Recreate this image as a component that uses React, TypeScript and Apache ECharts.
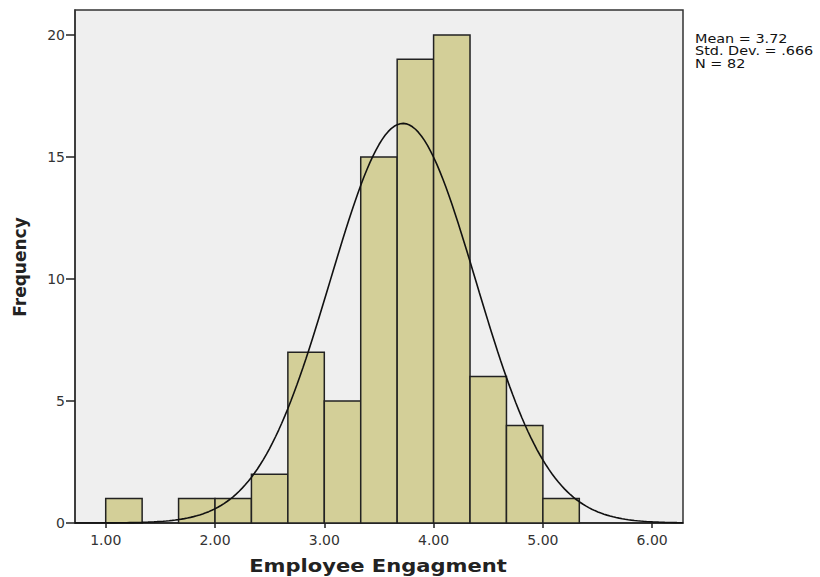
import React, { useEffect, useRef } from "react";
import * as echarts from "echarts";

const binStarts = [1.0, 1.3333, 1.6667, 2.0, 2.3333, 2.6667, 3.0, 3.3333, 3.6667, 4.0, 4.3333, 4.6667, 5.0];
const binEnds = [1.3333, 1.6667, 2.0, 2.3333, 2.6667, 3.0, 3.3333, 3.6667, 4.0, 4.3333, 4.6667, 5.0, 5.3333];
const frequencies = [1, 0, 1, 1, 2, 7, 5, 15, 19, 20, 6, 4, 1];
const xTicks = [1, 2, 3, 4, 5, 6];
const yTicks = [0, 5, 10, 15, 20];
const MEAN = 3.72;
const SD = 0.666;
const N = 82;
const BIN_WIDTH = 1 / 3;
const statLines = ["Mean = 3.72", "Std. Dev. = .666", "N = 82"];
const xTitle = "Employee Engagment";
const yTitle = "Frequency";

export default function App() {
  const ref = useRef<HTMLDivElement>(null);
  useEffect(() => {
    if (!ref.current) return;
    const chart = echarts.init(ref.current, null, { renderer: "svg" });
    const X_MIN = 0.719;
    const X_MAX = 6.282;
    // fitted normal curve from the stated Mean, SD and N
    const curve: number[][] = [];
    const steps = 200;
    for (let i = 0; i <= steps; i++) {
      const x = X_MIN + ((X_MAX - X_MIN) * i) / steps;
      const z = (x - MEAN) / SD;
      const y = ((N * BIN_WIDTH) / (SD * Math.sqrt(2 * Math.PI))) * Math.exp(-0.5 * z * z);
      curve.push([x, y]);
    }
    const bars = binStarts
      .map((s, i) => [s, binEnds[i], frequencies[i]])
      .filter((d) => d[2] > 0);
    const fmt = (v: number) => v.toFixed(2);
    chart.setOption({
      animation: false,
      grid: {
        left: 75,
        top: 10,
        right: 137,
        bottom: 54,
        outerBoundsMode: "none",
        containLabel: false,
        show: true,
        backgroundColor: "#efefef",
        borderColor: "#333",
        borderWidth: 1.5,
      },
      xAxis: {
        type: "value",
        min: X_MIN,
        max: X_MAX,
        axisLine: { show: true, onZero: false, lineStyle: { color: "#222", width: 1.5 } },
        splitLine: { show: false },
        axisTick: { show: true, customValues: xTicks, length: 5, lineStyle: { color: "#222", width: 1.5 } },
        axisLabel: {
          customValues: xTicks,
          formatter: (v: number) => fmt(v),
          fontFamily: "DejaVu Sans",
          fontSize: 14,
          color: "#333",
          margin: 10,
        },
      },
      yAxis: {
        type: "value",
        min: 0,
        max: 21.02,
        axisLine: { show: true, lineStyle: { color: "#333", width: 1.5 } },
        splitLine: { show: false },
        axisTick: { show: true, customValues: yTicks, length: 9, lineStyle: { color: "#222", width: 1.5 } },
        axisLabel: {
          customValues: yTicks,
          fontFamily: "DejaVu Sans",
          fontSize: 14,
          color: "#333",
          margin: 10,
        },
      },
      series: [
        {
          type: "custom",
          data: bars,
          renderItem: (params: any, api: any) => {
            const p0 = api.coord([api.value(0), api.value(2)]);
            const p1 = api.coord([api.value(1), 0]);
            return {
              type: "rect",
              shape: { x: p0[0], y: p0[1], width: p1[0] - p0[0], height: p1[1] - p0[1] },
              style: { fill: "#d3cf98", stroke: "#222", lineWidth: 1.5 },
            };
          },
          z: 2,
        },
        {
          type: "line",
          data: curve,
          showSymbol: false,
          smooth: false,
          lineStyle: { color: "#111", width: 1.6 },
          z: 3,
        },
      ],
      graphic: [
        ...statLines.map((t, i) => ({
          type: "text",
          x: 695,
          y: 39 + i * 12.3,
          scaleX: 1.2,
          style: { x: 0, y: 0, text: t, fontFamily: "DejaVu Sans", fontSize: 12, fill: "#111", textVerticalAlign: "middle" },
        })),
        {
          type: "text",
          x: 378,
          y: 566,
          scaleX: 1.17,
          style: {
            x: 0,
            y: 0,
            text: xTitle,
            fontFamily: "DejaVu Sans",
            fontSize: 18,
            fontWeight: "bold",
            fill: "#222",
            textAlign: "center",
            textVerticalAlign: "middle",
          },
        },
        {
          type: "text",
          x: 20,
          y: 267,
          rotation: Math.PI / 2,
          style: {
            x: 0,
            y: 0,
            text: yTitle,
            fontFamily: "DejaVu Sans",
            fontSize: 17,
            fontWeight: "bold",
            fill: "#222",
            textAlign: "center",
            textVerticalAlign: "middle",
          },
        },
      ],
    });
    return () => chart.dispose();
  }, []);
  return <div ref={ref} style={{ width: 820, height: 577, position: "absolute", left: 0, top: 0 }} />;
}
